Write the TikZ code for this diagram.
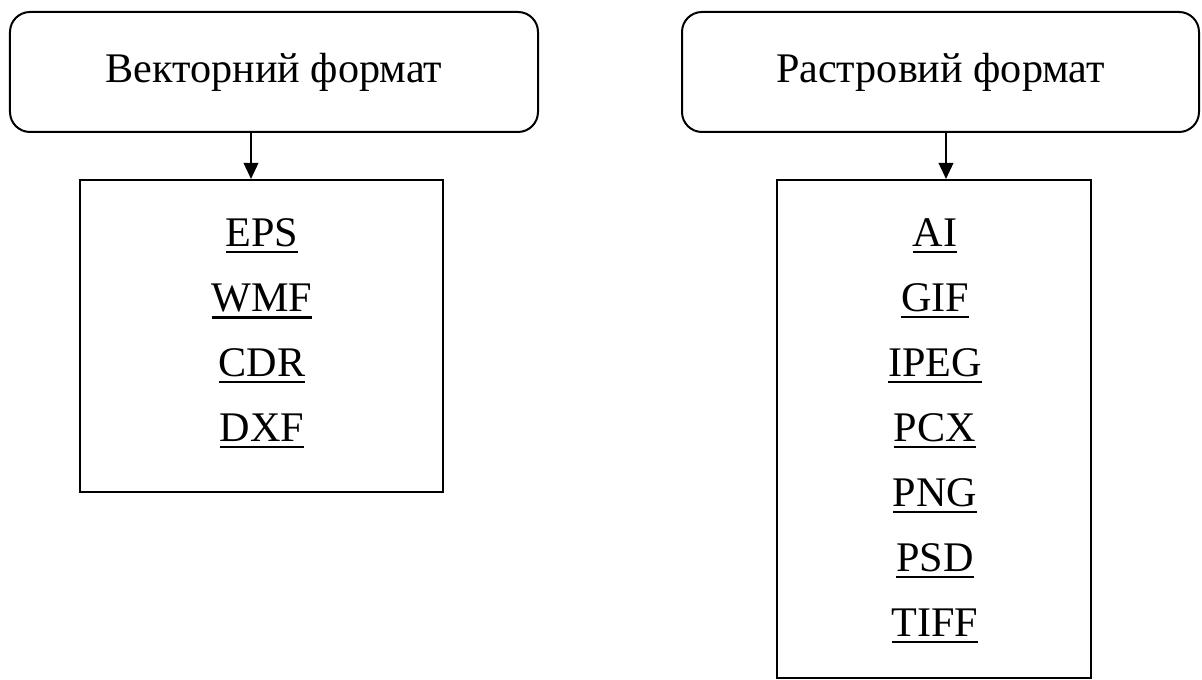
\documentclass[tikz,border=0pt]{standalone}
\usepackage{fontspec}
\setmainfont{Liberation Serif}
\usetikzlibrary{arrows.meta,positioning}
\newcommand{\extline}[1]{\leavevmode\vtop{\hbox{#1}\kern2.2pt\hrule height 1.15pt}}
\tikzset{
  fmt title/.style={
    draw=black,
    line width=.4mm,
    rounded corners=4mm,
    minimum height=2.4cm,
    font=\fontsize{24}{28}\selectfont,
    align=center
  },
  fmt list/.style={
    draw=black,
    line width=.4mm,
    inner sep=0pt
  },
  fmt item/.style={font=\fontsize{24}{28}\selectfont, inner sep=0pt},
  fmt arrow/.style={
    draw=black,
    line width=.4mm,
    -{Triangle[length=3.2mm,width=2.9mm]}
  }
}

\begin{document}
\begin{tikzpicture}[x=1cm,y=1cm]
  \path[use as bounding box] (0,0) rectangle (24.04,13.6);

  % format groups
  \node[fmt title, minimum width=10.56cm] (vecTitle) at (5.48,12.16) {Векторний формат};
  \node[fmt title, minimum width=10.34cm] (rasTitle) at (18.81,12.16) {Растровий формат};

  \node[fmt list, minimum width=7.26cm, minimum height=6.24cm] (vecList) at (5.23,6.88) {};
  \node[fmt list, minimum width=6.28cm, minimum height=9.96cm] (rasList) at (18.68,5.02) {};

  % file extensions
  \foreach \ext [count=\i] in {EPS,WMF,CDR,DXF}
    \node[fmt item, anchor=base] (vec-\i) at (5.24,8.66-1.3*\i+1.3) {\extline{\ext}};
  \foreach \ext [count=\i] in {AI,GIF,IPEG,PCX,PNG,PSD,TIFF}
    \node[fmt item, anchor=base] (ras-\i) at (18.70,8.66-1.3*\i+1.3) {\extline{\ext}};

  \coordinate (vecDrop) at (5.02,0);
  \coordinate (rasDrop) at (18.92,0);
  \draw[fmt arrow] (vecTitle.south -| vecDrop) -- (vecList.north -| vecDrop);
  \draw[fmt arrow] (rasTitle.south -| rasDrop) -- (rasList.north -| rasDrop);
\end{tikzpicture}
\end{document}
